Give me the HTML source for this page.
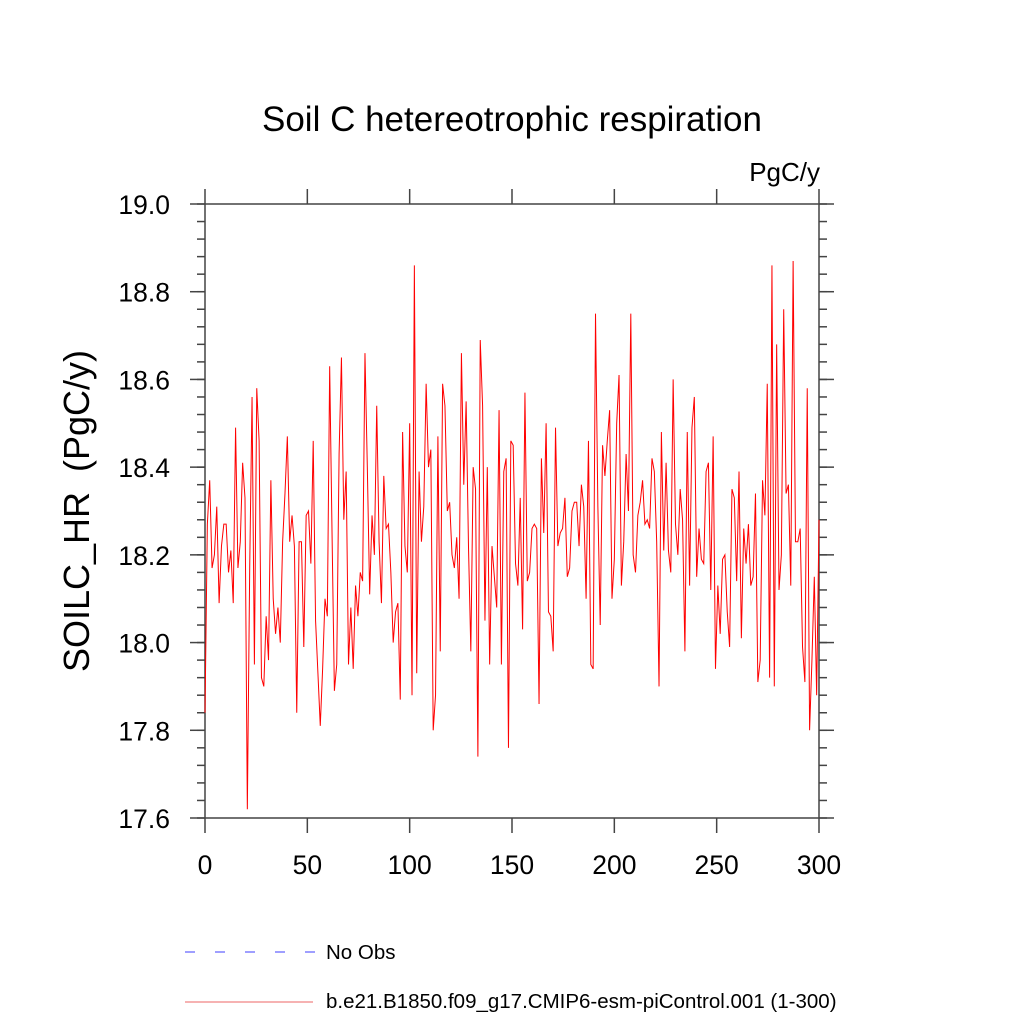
<!DOCTYPE html>
<html><head><meta charset="utf-8"><style>
html,body{margin:0;padding:0;background:#fff;width:1024px;height:1024px;overflow:hidden}
svg text{font-family:"Liberation Sans",sans-serif;fill:#000}
</style></head><body>
<svg width="1024" height="1024" viewBox="0 0 1024 1024" xmlns="http://www.w3.org/2000/svg">
<text x="512" y="131" font-size="35" text-anchor="middle">Soil C hetereotrophic respiration</text>
<text x="820" y="181" font-size="26" text-anchor="end">PgC/y</text>
<text transform="translate(89,511) rotate(-90)" font-size="36" text-anchor="middle">SOILC_HR&#160;&#160;(PgC/y)</text>
<g id="axes"></g>
<path id="series" fill="none" stroke="#ff0000" stroke-width="1"/>
<g>
<line x1="185" y1="952" x2="315" y2="952" stroke="#6666ff" stroke-width="1.2" stroke-dasharray="10,20"/>
<text x="326" y="959" font-size="20.5">No Obs</text>
<line x1="185" y1="1002" x2="313" y2="1002" stroke="#ee6666" stroke-width="1"/>
<text x="326" y="1008" font-size="20.5">b.e21.B1850.f09_g17.CMIP6-esm-piControl.001 (1-300)</text>
</g>
</svg>
<script>
const values = [17.84,18.27,18.37,18.17,18.20,18.31,18.09,18.22,18.27,18.27,18.16,18.21,18.09,18.49,18.17,18.23,18.41,18.33,17.62,18.17,18.56,17.95,18.58,18.46,17.92,17.90,18.06,17.96,18.37,18.10,18.02,18.08,18.00,18.23,18.34,18.47,18.23,18.29,18.22,17.84,18.23,18.23,17.99,18.29,18.30,18.18,18.46,18.05,17.93,17.81,17.94,18.10,18.06,18.63,18.25,17.89,17.95,18.43,18.65,18.28,18.39,17.95,18.08,17.94,18.13,18.06,18.16,18.14,18.66,18.40,18.11,18.29,18.20,18.54,
18.23,18.09,18.38,18.26,18.27,18.16,18.00,18.07,18.09,17.87,18.48,18.22,18.16,18.50,17.88,18.86,17.93,18.39,18.23,18.31,18.59,18.40,18.44,17.80,17.88,18.47,17.98,18.59,18.54,18.30,18.32,18.20,18.17,18.24,18.10,18.66,18.36,18.55,18.22,17.98,18.40,18.35,17.74,18.69,18.54,18.05,18.40,17.95,18.22,18.15,18.08,18.53,17.95,18.39,18.42,17.76,18.46,
18.45,18.18,18.13,18.33,18.03,18.57,18.14,18.16,18.26,18.27,18.26,17.86,18.42,18.25,18.50,18.07,18.06,17.98,18.49,18.22,18.25,18.26,18.33,18.15,18.17,18.30,18.32,18.32,18.22,18.36,18.31,18.10,18.46,17.95,17.94,18.75,18.31,18.04,18.45,18.38,18.46,18.53,18.10,18.19,18.50,18.61,18.13,18.23,18.43,18.30,18.75,18.20,18.16,18.29,18.32,18.37,18.27,18.28,18.26,18.42,18.39,18.23,17.90,18.48,18.21,18.41,18.21,18.16,18.60,18.27,
18.20,18.35,18.28,17.98,18.48,18.13,18.49,18.56,18.15,18.26,18.19,18.18,18.39,18.41,18.12,18.47,17.94,18.13,18.02,18.19,18.20,18.07,17.99,18.35,18.33,18.14,18.39,18.01,18.26,18.18,18.27,18.13,18.15,18.34,17.91,17.96,18.37,18.29,18.59,17.92,18.86,17.90,18.68,18.12,18.20,18.76,18.34,18.36,18.13,18.87,18.23,18.23,18.26,17.99,17.91,18.58,17.80,17.96,18.15,17.88,18.28];
const xTicks = [0,50,100,150,200,250,300];
const yTicks = [17.6,17.8,18.0,18.2,18.4,18.6,18.8,19.0];
const yTickLabels = ["17.6","17.8","18.0","18.2","18.4","18.6","18.8","19.0"];
const yMinorStep = 0.04;
const X0=205,X1=819,Y0=818,Y1=204;
const xMin=0,xMax=300,yMin=17.6,yMax=19.0;
function xs(v){return X0+(v-xMin)/(xMax-xMin)*(X1-X0);}
function ys(v){return Y0-(v-yMin)/(yMax-yMin)*(Y0-Y1);}
const NS='http://www.w3.org/2000/svg';
const ax=document.getElementById('axes');
function ln(x1,y1,x2,y2,name){const l=document.createElementNS(NS,'line');l.setAttribute('x1',x1);l.setAttribute('y1',y1);l.setAttribute('x2',x2);l.setAttribute('y2',y2);l.setAttribute('stroke','#444');l.setAttribute('stroke-width','1.5');


ax.appendChild(l);}
function tx(x,y,s,anchor,name){const t=document.createElementNS(NS,'text');t.setAttribute('x',x);t.setAttribute('y',y);t.setAttribute('font-size','26.5');t.setAttribute('text-anchor',anchor);t.textContent=s;


ax.appendChild(t);}
ln(X0,Y0,X1,Y0,'x-axis-bottom');ln(X0,Y1,X1,Y1,'x-axis-top');ln(X0,Y0,X0,Y1,'y-axis-left');ln(X1,Y0,X1,Y1,'y-axis-right');
const nMinor=Math.round((yMax-yMin)/yMinorStep);
for(let k=0;k<=nMinor;k++){const v=yMin+k*yMinorStep;const y=ys(v);ln(X0-8,y,X0,y,'y-minor-tick');ln(X1,y,X1+8,y,'y-minor-tick');}
yTicks.forEach((v,i)=>{const y=ys(v);ln(X0-15,y,X0,y,'y-major-tick');ln(X1,y,X1+15,y,'y-major-tick');tx(X0-35,y+10,yTickLabels[i],'end','y-tick-label');});
xTicks.forEach(v=>{const x=xs(v);ln(x,Y0,x,Y0+15,'x-major-tick');ln(x,Y1-15,x,Y1,'x-major-tick');tx(x,Y0+56,String(v),'middle','x-tick-label');});
const n=values.length;
let d='';
values.forEach((v,i)=>{const t=xMin+i*(xMax-xMin)/(n-1);d+=(i?'L':'M')+xs(t).toFixed(2)+','+ys(v).toFixed(2);});
document.getElementById('series').setAttribute('d',d);
</script>
</body></html>
